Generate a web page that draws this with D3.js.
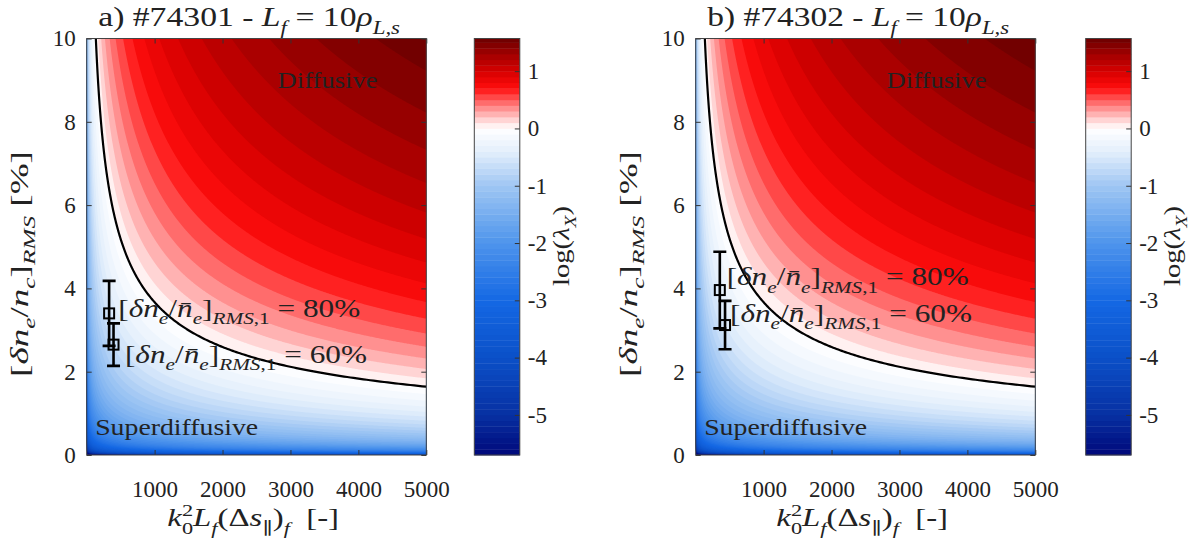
<!DOCTYPE html>
<html>
<head>
<meta charset="utf-8">
<script src="https://cdn.jsdelivr.net/npm/d3@7"></script>
<style>
  body { margin: 0; background: #fff; }
  svg, svg text, svg tspan { font-family: "Liberation Serif", "DejaVu Serif", serif; }
  svg text { fill: #222; white-space: pre; }
</style>
</head>
<body>
<svg id="chart" width="1201" height="541"></svg>
<script>
// ---- axes ----
const xTicks = [1000, 2000, 3000, 4000, 5000];
const yTicks = [0, 2, 4, 6, 8, 10];
const cbTicks = [-5, -4, -3, -2, -1, 0, 1];
const xDomain = [0, 5000];
const yDomain = [0, 10];
const cbDomain = [-5.70, 1.57];          // range of log(lambda_X) on the grid

// lambda_X = 1 where the boundary leaves the right edge (x = 5000)
const unityX = 5000;
const unityY = 1.64;

// ---- panels ----
const panelLetters = ["a", "b"];
const shotNumbers = ["#74301", "#74302"];
const fluctLabels = ["80%", "60%"];

// measured points: x, y and half error bar (80% case, 60% case)
const pointsX_a = [330, 395];
const pointsY_a = [3.40, 2.65];
const errors_a  = [0.78, 0.51];
const pointsX_b = [355, 432];
const pointsY_b = [3.96, 3.12];
const errors_b  = [0.92, 0.58];

// colormap stops (log(lambda_X) -> colour)
const cmapStops  = [-5.70, -5.0, -4.0, -3.0, -2.0, -1.0, -0.4, 0.0, 0.15, 0.35, 0.55, 0.70, 1.00, 1.30, 1.57];
const cmapColors = ["#00087a", "#0730a2", "#0b50c8", "#1468e4", "#4e94ec", "#9fc6f3", "#e4effc", "#ffffff",
                    "#ffd4d4", "#ff9090", "#ff4848", "#ff0d0d", "#d60000", "#a10000", "#6b0000"];
const bandStep = 0.1;

// ---- helpers ----
const svg = d3.select("#chart");
const cmap = d3.scaleLinear().domain(cmapStops).range(cmapColors).interpolate(d3.interpolateRgb).clamp(true);
const thresholds = d3.range(-57, 16).map(k => k / 10);          // -5.7 ... 1.5
const bandMid = t => Math.min(t + bandStep / 2, (t + cbDomain[1]) / 2);
const bandColor = t => cmap(bandMid(t));

const norm = Math.log10(unityX * unityY * unityY);
function logLambda(x, y) {
  const v = Math.log10(x * y * y) - norm;
  return Math.max(cbDomain[0], Math.min(cbDomain[1], v));
}

// text with italic runs, sub- and superscripts
function rich(textSel, parts, fs) {
  let shift = 0;
  parts.forEach(p => {
    const ts = textSel.append("tspan").text(p.t);
    const target = p.sub ? fs * 0.30 : (p.sup ? -fs * 0.42 : 0);
    if (target !== shift) { ts.attr("dy", target - shift); shift = target; }
    if (p.sub || p.sup) ts.attr("font-size", fs * 0.68);
    if (p.it) ts.attr("font-style", "italic");
    if (p.dx) ts.attr("dx", p.dx);
  });
  return textSel;
}

// rich text stretched horizontally to a given run length (TeX-like wide glyphs)
function label(parent, o) {
  const outer = parent.append("g")
    .attr("transform", `translate(${o.x},${o.y})` + (o.rotate ? ` rotate(${o.rotate})` : ""));
  const inner = outer.append("g");
  const t = inner.append("text").attr("font-size", o.size).attr("text-anchor", o.anchor || "start");
  if (o.fill) t.attr("fill", o.fill);
  rich(t, o.parts, o.size);
  if (o.width) {
    const w = t.node().getComputedTextLength();
    if (w > 0) inner.attr("transform", `scale(${o.width / w},1)`);
  }
  return t;
}

// shared value grid
const nx = 340, ny = 417;
const grid = new Float64Array(nx * ny);
for (let j = 0; j < ny; j++) {
  const yv = yDomain[1] - (j + 0.5) / ny * (yDomain[1] - yDomain[0]);
  for (let i = 0; i < nx; i++) {
    const xv = xDomain[0] + (i + 0.5) / nx * (xDomain[1] - xDomain[0]);
    grid[j * nx + i] = logLambda(xv, yv);
  }
}
const bands = d3.contours().size([nx, ny]).thresholds(thresholds)(grid);

const panels = [
  { letter: panelLetters[0], shot: shotNumbers[0], px: pointsX_a, py: pointsY_a, err: errors_a,
    left: 86.7, cbLeft: 474.3,
    notes: [{ x: 465, y: 3.32 }, { x: 563, y: 2.21 }] },
  { letter: panelLetters[1], shot: shotNumbers[1], px: pointsX_b, py: pointsY_b, err: errors_b,
    left: 695.7, cbLeft: 1085.7,
    notes: [{ x: 456, y: 4.08 }, { x: 505, y: 3.20 }] }
];

const plotTop = 38.5, plotH = 416.5, plotW = 339.6, cbWidth = 45.5;
const fsTick = 23;

panels.forEach((P, idx) => {
  const x = d3.scaleLinear().domain(xDomain).range([P.left, P.left + plotW]);
  const y = d3.scaleLinear().domain(yDomain).range([plotTop + plotH, plotTop]);
  const g = svg.append("g");

  const clipId = "clip" + idx;
  g.append("clipPath").attr("id", clipId)
    .append("rect").attr("x", P.left).attr("y", plotTop).attr("width", plotW).attr("height", plotH);

  // filled contour bands
  const proj = d3.geoTransform({
    point(gx, gy) {
      this.stream.point(x(xDomain[0] + gx / nx * (xDomain[1] - xDomain[0])),
                        y(yDomain[1] - gy / ny * (yDomain[1] - yDomain[0])));
    }
  });
  const path = d3.geoPath(proj);
  const field = g.append("g").attr("clip-path", `url(#${clipId})`);
  field.append("rect").attr("x", P.left).attr("y", plotTop).attr("width", plotW).attr("height", plotH)
    .attr("fill", bandColor(thresholds[0]));
  field.selectAll("path.band").data(bands).join("path")
    .attr("class", "band").attr("d", path).attr("fill", d => bandColor(d.value));

  // lambda_X = 1 boundary
  const xStart = unityX * (unityY / yDomain[1]) ** 2;
  const xs = d3.range(0, 301).map(k => xStart * Math.pow(xDomain[1] / xStart, k / 300));
  const line = d3.line().x(d => x(d)).y(d => y(unityY * Math.sqrt(unityX / d)));
  field.append("path").attr("d", line(xs)).attr("fill", "none")
    .attr("stroke", "#000").attr("stroke-width", 2.2);

  // region labels
  label(g, { x: x(2810), y: y(8.82), size: 24, width: 100, parts: [{ t: "Diffusive" }] });
  label(g, { x: x(125), y: y(0.48), size: 24, width: 163, parts: [{ t: "Superdiffusive" }] });

  // annotations
  P.notes.forEach((n, k) => {
    label(g, { x: x(n.x), y: y(n.y), size: 25, width: 242, fill: "#1a1a1a",
      parts: [{ t: "[" }, { t: "δn", it: 1 }, { t: "e", it: 1, sub: 1 }, { t: "/" }, { t: "n\u0304", it: 1 },
              { t: "e", it: 1, sub: 1 }, { t: "]" }, { t: "RMS", it: 1, sub: 1 }, { t: ",1", sub: 1 },
              { t: " = " + fluctLabels[k] }] });
  });

  // error bars
  const eb = g.append("g").attr("clip-path", `url(#${clipId})`);
  P.px.forEach((xv, k) => {
    const cx = x(xv), lo = y(P.py[k] - P.err[k]), hi = y(P.py[k] + P.err[k]);
    eb.append("line").attr("x1", cx).attr("x2", cx).attr("y1", lo).attr("y2", hi)
      .attr("stroke", "#000").attr("stroke-width", 2.6);
    [lo, hi].forEach(v => eb.append("line").attr("x1", cx - 6.5).attr("x2", cx + 6.5).attr("y1", v).attr("y2", v)
      .attr("stroke", "#000").attr("stroke-width", 2.6));
    eb.append("rect").attr("x", cx - 5).attr("y", y(P.py[k]) - 5).attr("width", 10).attr("height", 10)
      .attr("fill", "none").attr("stroke", "#000").attr("stroke-width", 2);
  });

  // axes (ticks point inward)
  const styleAxis = a => { a.attr("font-family", null); a.select(".domain").remove(); a.selectAll("line").attr("stroke", "#333");
    a.selectAll("text").attr("font-size", fsTick).attr("fill", "#222"); };
  g.append("g").attr("transform", `translate(0,${plotTop + plotH})`)
    .call(d3.axisBottom(x).tickValues(xTicks).tickSize(-5).tickPadding(26).tickFormat(d3.format("d"))).call(styleAxis);
  g.append("g").attr("transform", `translate(0,${plotTop})`)
    .call(d3.axisTop(x).tickValues(xTicks).tickSize(-5).tickFormat("")).call(styleAxis);
  g.append("g").attr("transform", `translate(${P.left},0)`)
    .call(d3.axisLeft(y).tickValues(yTicks).tickSize(-5).tickPadding(11).tickFormat(d3.format("d"))).call(styleAxis);
  g.append("g").attr("transform", `translate(${P.left + plotW},0)`)
    .call(d3.axisRight(y).tickValues(yTicks).tickSize(-5).tickFormat("")).call(styleAxis);
  g.append("rect").attr("x", P.left).attr("y", plotTop).attr("width", plotW).attr("height", plotH)
    .attr("fill", "none").attr("stroke", "#444").attr("stroke-width", 1);

  // title
  label(g, { x: P.left + 11.5, y: 26, size: 27, width: 302,
    parts: [{ t: P.letter + ") " + P.shot + " - " }, { t: "L", it: 1 }, { t: "f", it: 1, sub: 1 }, { t: " = 10" },
            { t: "ρ", it: 1 }, { t: "L,s", it: 1, sub: 1 }] });

  // axis labels
  label(g, { x: P.left + 166.5, y: 526, size: 25, width: 183, anchor: "middle",
    parts: [{ t: "k", it: 1 }, { t: "2", sup: 1 }, { t: "0", sub: 1, dx: -25 * 0.68 * 0.5 }, { t: "L", it: 1 }, { t: "f", it: 1, sub: 1 },
            { t: "(Δ" }, { t: "s", it: 1 }, { t: "∥", sub: 1 }, { t: ")" }, { t: "f", it: 1, sub: 1 }, { t: "  [-]" }] });
  label(g, { x: P.left - 59, y: 264, rotate: -90, size: 25, width: 226, anchor: "middle",
    parts: [{ t: "[" }, { t: "δn", it: 1 }, { t: "e", it: 1, sub: 1 }, { t: "/" }, { t: "n", it: 1 }, { t: "c", it: 1, sub: 1 },
            { t: "]" }, { t: "RMS", it: 1, sub: 1 }, { t: " [%]" }] });

  // colorbar
  const cb = d3.scaleLinear().domain(cbDomain).range([plotTop + plotH, plotTop]);
  const cbg = g.append("g");
  cbg.selectAll("rect.cb").data(thresholds).join("rect").attr("class", "cb")
    .attr("x", P.cbLeft).attr("width", cbWidth)
    .attr("y", t => cb(Math.min(t + bandStep, cbDomain[1])))
    .attr("height", t => cb(t) - cb(Math.min(t + bandStep, cbDomain[1])) + 0.4)
    .attr("fill", t => bandColor(t));
  cbg.append("g").attr("transform", `translate(${P.cbLeft + cbWidth},0)`)
    .call(d3.axisRight(cb).tickValues(cbTicks).tickSize(-5).tickPadding(8).tickFormat(d => String(d))).call(styleAxis);
  cbg.append("rect").attr("x", P.cbLeft).attr("y", plotTop).attr("width", cbWidth).attr("height", plotH)
    .attr("fill", "none").attr("stroke", "#444").attr("stroke-width", 1);
  label(cbg, { x: P.cbLeft + cbWidth + 49, y: 246, rotate: -90, size: 24, width: 80, anchor: "middle",
    parts: [{ t: "log(" }, { t: "λ", it: 1 }, { t: "X", it: 1, sub: 1 }, { t: ")" }] });
});
</script>
</body>
</html>
